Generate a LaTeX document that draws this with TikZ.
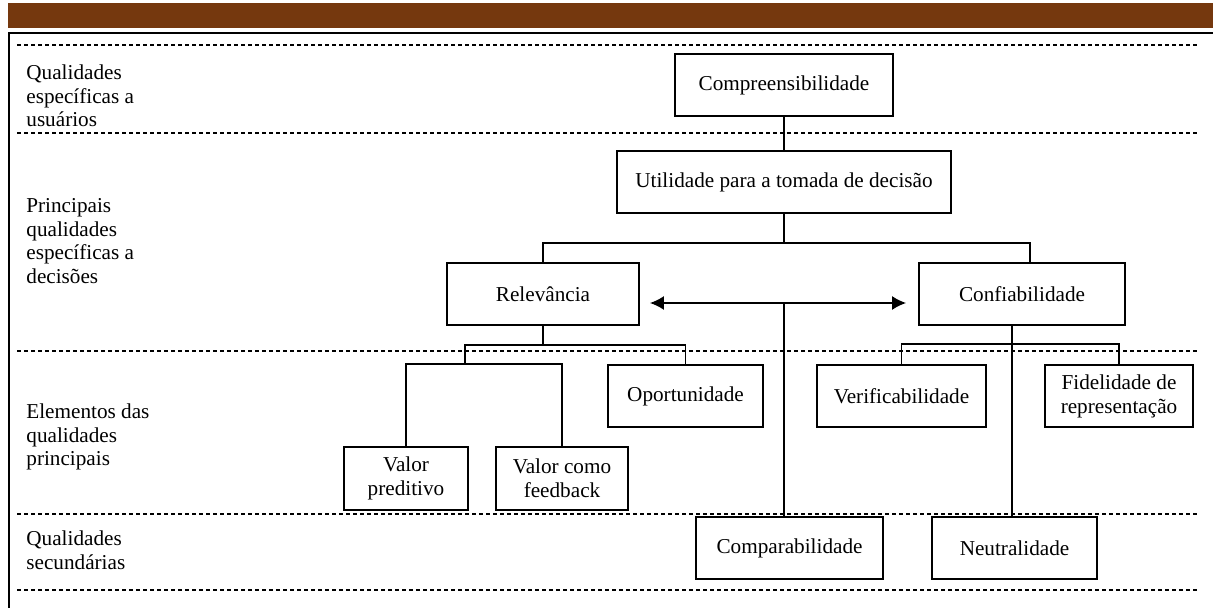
\documentclass[tikz,border=0pt]{standalone}
\usepackage{fontspec}
\setmainfont{Liberation Serif}
\usepackage{tikz}
\usetikzlibrary{arrows.meta,positioning}
\definecolor{BarraMarrom}{HTML}{75380E}

\begin{document}
\begin{tikzpicture}[x=0.5pt,y=-0.5pt,
    caixa/.style={draw, line width=0.9pt, align=center, inner sep=0pt, minimum height=31pt, font=\fontsize{10.6}{12}\selectfont},
    rotulo/.style={anchor=west, align=left, inner sep=0pt, font=\fontsize{10.6}{11.75}\selectfont},
    divisao/.style={line width=0.8pt, dash pattern=on 2pt off 1.5pt},
    liga/.style={line width=0.9pt}]
        \useasboundingbox (0,0) rectangle (1213,608);
        \fill[BarraMarrom] (8,3) rectangle (1213,28);
        \draw[line width=1.2pt] (9,608) -- (9,33) -- (1213,33);

        \foreach \yy in {45,133,351,514,590}
            \draw[divisao] (17,\yy) -- (1200,\yy);

        \node[rotulo] (usuarios) at (26,96) {Qualidades\\específicas a\\usuários};
        \node[rotulo] (decisoes) at (26,241) {Principais\\qualidades\\específicas a\\decisões};
        \node[rotulo] (elementos) at (26,437) {Elementos das\\qualidades\\principais};
        \node[rotulo] (secundarias) at (26,550) {Qualidades\\secundárias};

        \node[caixa, minimum width=109pt] (compr) at (784,85) {Compreensibilidade};
        \node[caixa, minimum width=167pt] (util) at (784,182) {Utilidade para a tomada de decisão};
        \node[caixa, minimum width=96pt] (relev) at (543,294) {Relevância};
        \node[caixa, minimum width=103pt] (confi) at (1022,294) {Confiabilidade};
        \node[caixa, minimum width=77.5pt] (oport) at (685.5,396) {Oportunidade};
        \node[caixa, minimum width=84.5pt] (verif) at (901.5,396) {Verificabilidade};
        \node[caixa, minimum width=74pt] (fidel) at (1119,396) {Fidelidade de\\representação};
        \node[caixa, minimum width=62pt, minimum height=31.5pt] (vpred) at (406,478.5) {Valor\\preditivo};
        \node[caixa, minimum width=66pt, minimum height=31.5pt] (vfeed) at (562,478.5) {Valor como\\feedback};
        \node[caixa, minimum width=93.5pt] (compa) at (789.5,548) {Comparabilidade};
        \node[caixa, minimum width=82.5pt] (neutr) at (1014.5,548) {Neutralidade};

        \coordinate (meio) at (784,303);
        \coordinate (barraR) at (465,345);

        \draw[liga] (compr) -- (util);
        \draw[liga] (util.south) -- ++(0,29) -| (relev.north);
        \draw[liga] (util.south) -- ++(0,29) -| ([xshift=4pt]confi.north);
        \draw[liga, {Latex[length=7pt,width=7pt]}-{Latex[length=7pt,width=7pt]}] ([xshift=5pt,yshift=-4.5pt]relev.east) -- ([xshift=-6pt,yshift=-4.5pt]confi.west);
        \draw[liga] (meio) -- (meio |- compa.north);
        \draw[liga] ([xshift=-5pt]confi.south) -- ([xshift=-5pt]confi.south |- neutr.north);
        \draw[liga] (verif.north) -- ++(0,-20) -| (fidel.north);
        \draw[liga] (relev.south) -- (relev.south |- barraR);
        \draw[liga] (oport.north) |- (barraR) -- ++(0,20);
        \draw[liga] (vpred.north) -- ++(0,-82) -| (vfeed.north);
    \end{tikzpicture}
\end{document}
